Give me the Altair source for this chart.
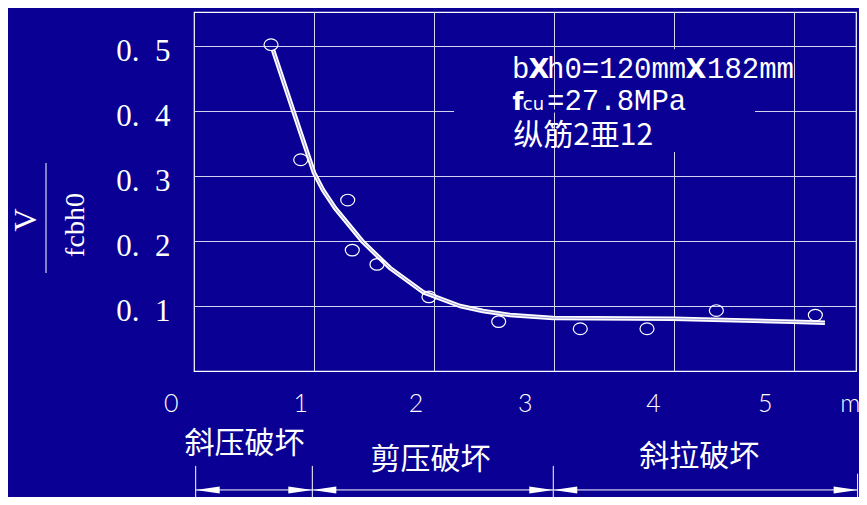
import altair as alt
import pandas as pd

BG = "#0A0094"
GRID = "#D4D4EE"
NB = "\u00a0"

# ---- data ----
lam = [0.642, 0.889, 1.281, 1.319, 1.525, 1.958, 2.539, 3.219, 3.775, 4.353, 5.178]
ratio = [0.502, 0.325, 0.263, 0.186, 0.164, 0.114, 0.076, 0.065, 0.065, 0.093, 0.086]

fit_lam = [0.658, 0.825, 1.0, 1.075, 1.175, 1.408, 1.633, 1.908, 2.217, 2.408, 2.633, 2.992, 3.992, 4.992, 5.258]
fit_ratio = [0.494, 0.4015, 0.305, 0.2785, 0.2508, 0.1985, 0.1585, 0.1215, 0.100, 0.0923, 0.0862, 0.0815, 0.0805, 0.0758, 0.0743]

x_grid = [1, 2, 3, 4, 5]
y_ticks = [0.1, 0.2, 0.3, 0.4, 0.5]
x_tick_text = ["0", "1", "2", "3", "4", "5", "m"]
x_tick_pos = [-0.19, 0.89, 1.85, 2.76, 3.83, 4.76, 5.47]

modes = ["斜压破坏", "剪压破坏", "斜拉破坏"]
mode_start = [0.014, 0.986, 2.994]
mode_end = [0.986, 2.994, 5.53]
mode_label_x = [0.42, 1.97, 4.21]
mode_label_y = [-0.113, -0.137, -0.133]
bound_x = [0.014, 0.986, 2.994, 5.53]
bound_top = [-0.146, -0.146, -0.146, -0.158]

XMAX = 662 / 120
YMAX = 359 / 650
xs = alt.Scale(domain=[0, XMAX], nice=False, zero=False)
ys = alt.Scale(domain=[0, YMAX], nice=False, zero=False)

pts = pd.DataFrame({"lam": lam, "r": ratio})
fit = pd.DataFrame({"lam": fit_lam, "r": fit_ratio})


def X(f):
    return alt.X(f, title=None)


def Y(f):
    return alt.Y(f, title=None)


# base layer carrying axes / grid
base = alt.Chart(pts).mark_point(opacity=0).encode(
    x=alt.X("lam:Q", scale=xs, title=None,
            axis=alt.Axis(values=x_grid, grid=True, labels=False, ticks=False,
                          domain=False, gridColor=GRID, gridWidth=1)),
    y=alt.Y("r:Q", scale=ys, title=None,
            axis=alt.Axis(values=y_ticks, grid=True, ticks=False, domain=False,
                          gridColor=GRID, gridWidth=1,
                          labelExpr="replace(format(datum.value, '.1f'), '.', '." + NB + NB + "')",
                          labelFont="Liberation Serif", labelFontSize=31, labelColor="white",
                          labelPadding=24, labelOffset=5)),
)

# gaps in grid behind the annotation
gap_h = pd.DataFrame({"x0": [2.167], "x1": [4.675], "y0": [0.4]})
gap_v = pd.DataFrame({"x0": [4.0], "y0": [0.495], "y1": [0.337]})
gh = alt.Chart(gap_h).mark_rule(color=BG, strokeWidth=3).encode(x=X("x0:Q"), x2="x1:Q", y=Y("y0:Q"))
gv = alt.Chart(gap_v).mark_rule(color=BG, strokeWidth=3).encode(x=X("x0:Q"), y=Y("y0:Q"), y2="y1:Q")

curve_w = alt.Chart(fit).mark_line(color="white", strokeWidth=4.5, strokeJoin="round").encode(
    x=X("lam:Q"), y=Y("r:Q"))
curve_b = alt.Chart(fit).mark_line(color=BG, strokeWidth=0.9, opacity=0.45, strokeJoin="round").encode(
    x=X("lam:Q"), y=Y("r:Q"))

ellipse = "M -1 0 A 1 0.83 0 1 0 1 0 A 1 0.83 0 1 0 -1 0 Z"
points = alt.Chart(pts).mark_point(shape=ellipse, size=196, filled=False, color="white",
                                   strokeWidth=1.2, opacity=1).encode(x=X("lam:Q"), y=Y("r:Q"))


def txt(df, **kw):
    return alt.Chart(df).mark_text(color="white", **kw).encode(x=X("x:Q"), y=Y("y:Q"), text="t:N")


# annotation texts (pieces)
ann_mono = txt(pd.DataFrame({"t": ["b", "h0=120mm", "182mm", "=27.8MPa"],
                             "x": [2.65, 2.942, 4.275, 2.942],
                             "y": [0.4508, 0.4508, 0.4508, 0.4015]}),
               font="Liberation Mono", fontSize=29, align="left", baseline="alphabetic")
ann_x = txt(pd.DataFrame({"t": ["X", "X"], "x": [2.875, 4.183], "y": [0.4508, 0.4508]}),
            font="DejaVu Sans", fontSize=27, fontWeight="bold", align="center", baseline="alphabetic")
ann_f = txt(pd.DataFrame({"t": ["f"], "x": [2.655], "y": [0.4015]}),
            font="DejaVu Sans", fontSize=25, fontWeight="bold", align="left", baseline="alphabetic")
ann_cu = txt(pd.DataFrame({"t": ["cu"], "x": [2.74], "y": [0.4015]}),
             font="DejaVu Sans", fontSize=18, align="left", baseline="alphabetic")
ann3 = txt(pd.DataFrame({"t": ["纵筋2亜12"], "x": [2.66], "y": [0.3608]}),
           font="Noto Sans CJK SC", fontSize=30, align="left", baseline="middle")

# x tick labels
xt = txt(pd.DataFrame({"t": x_tick_text, "x": x_tick_pos, "y": [-0.0508] * len(x_tick_pos)}),
         font="Lato", fontSize=25, fontWeight=300, align="center", baseline="middle")

# failure-mode labels and dimension lines
md = pd.DataFrame({"t": modes, "x": mode_label_x, "y": mode_label_y,
                   "x0": mode_start, "x1": mode_end, "yd": [-0.183] * 3})
mlab = txt(md, font="Noto Sans CJK SC", fontSize=30, align="center", baseline="middle")
dim = alt.Chart(md).mark_rule(color="white", strokeWidth=1).encode(x=X("x0:Q"), x2="x1:Q", y=Y("yd:Q"))
arrow_l = alt.Chart(md).mark_point(shape="M 0 0 L 2 -0.29 L 2 0.29 Z", size=576, filled=True,
                                   color="white", opacity=1).encode(x=X("x0:Q"), y=Y("yd:Q"))
arrow_r = alt.Chart(md).mark_point(shape="M 0 0 L -2 -0.29 L -2 0.29 Z", size=576, filled=True,
                                   color="white", opacity=1).encode(x=X("x1:Q"), y=Y("yd:Q"))
bd = pd.DataFrame({"x": bound_x, "y0": bound_top, "y1": [-0.215] * 4})
bounds = alt.Chart(bd).mark_rule(color="white", strokeWidth=1).encode(x=X("x:Q"), y=Y("y0:Q"), y2="y1:Q")

# y-axis title  V / fcbh0
one = pd.DataFrame({"a": [0]})
t_v = alt.Chart(one).mark_text(text="V", color="white", font="Liberation Serif", fontSize=32,
                               angle=270, align="center", baseline="middle").encode(
    x=alt.value(-168), y=alt.value(208))
t_den = alt.Chart(one).mark_text(text="fcbh0", color="white", font="Liberation Serif", fontSize=28,
                                 angle=270, align="center", baseline="middle").encode(
    x=alt.value(-118), y=alt.value(213))
bar = alt.Chart(one).mark_rule(color=GRID, strokeWidth=1.2).encode(
    x=alt.value(-148), y=alt.value(151), y2=alt.value(261))

chart = alt.layer(
    base, gh, gv, curve_w, curve_b, points, ann_mono, ann_x, ann_f, ann_cu, ann3, xt,
    mlab, dim, arrow_l, arrow_r, bounds, t_v, t_den, bar
).properties(
    width=662, height=359,
    padding={"left": 186, "top": 4, "right": 3, "bottom": 126},
    autosize=alt.AutoSizeParams(type="none"),
    background=BG,
).configure_view(
    stroke="white", strokeWidth=1.2, fill=BG
)

chart.save("out.html", embed_options={"renderer": "svg", "actions": False})
